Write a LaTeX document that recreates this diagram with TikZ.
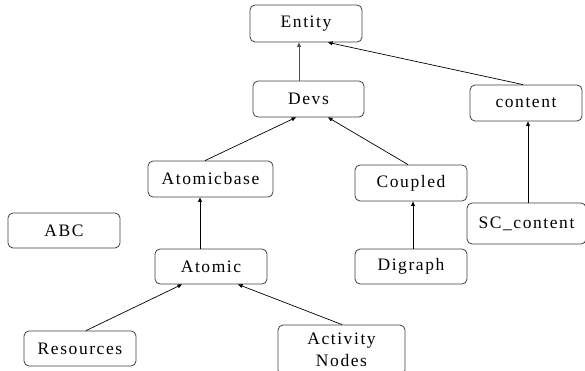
\documentclass[tikz,border=0pt]{standalone}
\usepackage{fontspec}
\setmainfont{Liberation Serif}[LetterSpace=9]
\usetikzlibrary{arrows.meta}
\begin{document}
\begin{tikzpicture}[x=1pt,y=-1pt,
  box/.style={draw=black!75, line width=0.8pt, rounded corners=5pt, inner sep=0pt,
    minimum width=112pt, minimum height=36pt, font=\fontsize{17.5}{21.5}\selectfont, align=center},
  link/.style={draw=black, line width=0.7pt, -{Triangle[length=4.5pt,width=3.8pt]}}]
\useasboundingbox (0,0) rectangle (585,371);
\node[box, minimum height=37pt] (entity) at (306,23.5) {Entity};
\node[box, minimum width=111pt] (devs) at (308.5,99) {Devs};
\node[box] (content) at (526,103) {content};
\node[box, minimum width=125pt] (atomicbase) at (210.5,179) {Atomicbase};
\node[box] (coupled) at (411,183) {Coupled};
\node[box, minimum width=119pt, minimum height=41pt] (sc) at (526.5,223.5) {SC\_content};
\node[box, minimum height=35pt] (abc) at (64,230.5) {ABC};
\node[box, minimum height=35pt] (atomic) at (211,266.5) {Atomic};
\node[box, minimum height=35pt] (digraph) at (411,266.5) {Digraph};
\node[box, minimum height=35pt] (resources) at (80,348.5) {Resources};
\node[box, minimum width=127pt, minimum height=50pt] (activity) at (341.5,350) {Activity\\Nodes};
\draw[link, draw=black!70] ([xshift=-9.5pt]devs.north) -- ([xshift=-9.5pt]devs.north |- entity.south);
\draw[link] ([xshift=-3pt]content.north) -- ([xshift=22pt]entity.south);
\draw[link] ([xshift=-5.5pt]atomicbase.north) -- ([xshift=-12.5pt]devs.south);
\draw[link] ([xshift=-3pt]coupled.north) -- ([xshift=19.5pt]devs.south);
\draw[link] ([xshift=-11pt]atomic.north) -- ([xshift=-11pt]atomic.north |- atomicbase.south);
\draw[link] ([xshift=6pt]resources.north) -- ([xshift=-29pt]atomic.south);
\draw[link] ([xshift=0.5pt]activity.north) -- ([xshift=27pt]atomic.south);
\draw[link] ([xshift=2pt]digraph.north) -- ([xshift=2pt]digraph.north |- coupled.south);
\draw[link] ([xshift=1.5pt]sc.north) -- ([xshift=1.5pt]sc.north |- content.south);
\end{tikzpicture}
\end{document}
